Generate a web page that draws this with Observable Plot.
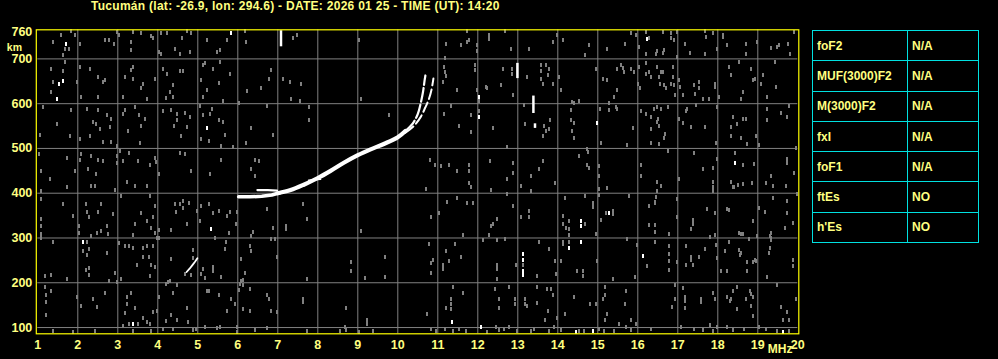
<!DOCTYPE html>
<html>
<head>
<meta charset="utf-8">
<script src="https://cdn.jsdelivr.net/npm/d3@7"></script>
<script src="https://cdn.jsdelivr.net/npm/@observablehq/plot@0.6"></script>
<style>
  html, body { margin: 0; padding: 0; background: #000; }
  #wrap { position: relative; width: 998px; height: 359px; overflow: hidden; background: #000; }
  #wrap svg { position: absolute; left: 0; top: 0; }
  #title { position: absolute; left: 91px; top: -1px; color: #ffff80; font: bold 12px "Liberation Sans", Arial, sans-serif; letter-spacing: 0.28px; white-space: nowrap; }
  #params { position: absolute; left: 812px; top: 30px; height: 212px; border-collapse: collapse; font: bold 12px "Liberation Sans", Arial, sans-serif; color: #ffff80; }
  #params tr { height: 30.3px; }
  #params td { border: 1px solid #00e0e0; padding: 0 0 0 4px; vertical-align: middle; }
  #params td.k { width: 90px; }
  #params td.v { width: 66px; }
</style>
</head>
<body>
<div id="wrap">
  <div id="title"></div>
  <table id="params"></table>
</div>
<script>
// ---------- text ----------
const titleText = "Tucumán (lat: -26.9, lon: 294.6) - DATE: 2026 01 25 - TIME (UT): 14:20";
const paramNames = ["foF2", "MUF(3000)F2", "M(3000)F2", "fxI", "foF1", "ftEs", "h'Es"];
const paramValues = ["N/A", "N/A", "N/A", "N/A", "N/A", "NO", "NO"];

// ---------- axes ----------
const xTicks = d3.range(1, 21);            // MHz
const xGrid = d3.range(2, 20);
const yTicks = [100, 200, 300, 400, 500, 600, 700, 760]; // km
const yGrid = [100, 200, 300, 400, 500, 600, 700];

// ---------- echo traces (freq MHz, virtual height km) ----------
const oTraceLow = [[6.02,392],[6.3,392],[6.6,393],[6.85,396],[7.05,401]];
const oTraceMid = [[7.0,400],[7.32,407],[7.65,419],[8.0,434],[8.32,450],[8.65,468],[9.0,485],[9.32,498],[9.65,510],[10.0,525],[10.19,539]];
const oTraceTop = [[10.19,539],[10.36,554],[10.5,577],[10.57,600],[10.63,626],[10.67,652],[10.69,663]];
const xTrace = [[10.19,535],[10.4,550],[10.57,570],[10.69,592],[10.78,611],[10.84,630],[10.89,656]];
const sideTrace = [[6.49,407],[6.75,407],[6.98,406]];
const streak = [[7.77,429],[8.07,431]];
const lowTrace = [[4.72,224],[4.80,232],[4.87,240],[4.93,247],[4.99,255]];
const spikes = [
  {f: 7.08, h1: 727, h2: 763},
  {f: 12.99, h1: 656, h2: 690},
  {f: 13.39, h1: 578, h2: 617},
  {f: 13.43, h1: 545, h2: 555}
];

// ---------- scattered noise echoes ----------
const noiseWhite = [[1.70,734],[5.84,757],[1.53,645],[1.63,650],[1.48,610],[5.23,545],[16.24,744],[12.03,615],[12.03,570],[14.99,557],[18.43,468],[2.13,290],[5.34,321],[3.38,107],[14.58,338],[14.58,327],[15.28,355],[13.14,264],[13.14,251],[13.14,226],[13.14,218],[14.28,277],[14.58,290],[16.13,260],[11.35,112],[12.08,101],[14.45,90],[14.87,93],[19.64,90]];

const noiseGray = [
[1.38,738],[1.57,753],[1.68,723],[1.78,723],[1.63,708],[1.84,762],[1.94,753],[2.05,734],[2.68,742],[2.78,742],[2.90,734],[3.03,753],[2.97,760],[3.34,738],[3.32,719],[3.38,760],[3.59,757],[3.84,751],[3.88,746],[4.09,757],[4.23,757],[4.03,716],[4.07,712],[4.43,723],[4.55,712],[4.61,746],[4.73,762],[4.84,757],[4.80,716],[5.22,742],[5.47,716],[5.55,719],[5.73,742],[6.20,738],[6.18,762],[7.38,746],[7.48,754],[9.03,742],
[1.34,678],[1.62,672],[1.68,693],[2.05,682],[2.30,678],[2.51,660],[2.63,649],[2.68,652],[2.51,615],[2.09,615],[1.38,649],[1.34,626],[1.97,649],[3.18,660],[3.38,656],[3.34,675],[3.38,682],[3.63,645],[3.59,634],[3.93,656],[3.13,615],[3.72,611],[4.13,678],[4.22,667],[4.55,672],[4.63,672],[4.38,641],[4.30,626],[4.38,615],[4.20,613],[5.13,686],[5.18,690],[5.38,678],[5.55,693],[5.80,667],[5.09,652],[5.22,630],[5.13,615],[5.53,647],[5.63,607],[6.23,628],[6.59,634],[6.78,656],[6.84,675],[7.13,656],[7.30,649],[7.59,645],[7.34,611],[7.55,605],[9.09,611],[6.03,602],
[1.13,593],[1.84,585],[1.47,555],[1.05,530],[1.80,528],[2.05,521],[2.22,589],[2.51,585],[2.72,574],[2.84,566],[2.38,559],[2.45,555],[2.55,544],[2.80,547],[2.30,528],[2.63,515],[2.82,515],[2.97,505],[3.18,585],[3.13,576],[3.43,593],[3.53,574],[3.59,551],[3.68,566],[3.26,540],[3.55,513],[4.13,583],[4.34,585],[4.47,578],[4.68,580],[4.80,570],[4.47,563],[4.40,551],[4.73,547],[4.59,527],[5.05,595],[5.13,574],[5.36,589],[5.30,576],[5.53,563],[5.63,560],[5.09,521],[5.28,517],[5.68,530],[5.59,505],[5.88,503],[6.34,545],[6.20,513],[6.88,530],[6.74,595],[7.78,593],[7.78,563],[9.78,574],
[1.03,487],[1.07,449],[1.30,431],[1.73,479],[2.09,487],[2.05,475],[2.34,483],[2.51,475],[2.62,472],[2.26,453],[2.45,442],[1.93,449],[2.97,483],[2.97,468],[3.05,494],[3.28,489],[3.13,472],[3.51,472],[3.80,464],[3.93,479],[3.95,469],[4.03,442],[4.55,489],[4.68,487],[4.84,449],[5.30,442],[5.59,475],[6.43,475],[6.53,472],[6.34,453],[6.43,438],
[11.74,762],[11.77,742],[11.73,738],[11.58,731],[11.20,734],[11.18,701],[11.99,731],[11.99,717],[12.28,753],[12.28,744],[12.68,762],[12.83,723],[13.28,723],[13.89,738],[13.99,753],[14.13,742],[14.78,731],[14.68,708],[15.24,722],[15.68,734],[15.83,757],[15.95,754],[16.03,727],[16.20,759],[16.28,746],[16.20,712],[16.45,712],[16.49,717],[16.62,714],[16.66,719],[16.64,760],[16.83,746],[16.84,757],[16.91,742],[16.99,759],[16.99,704],[17.18,734],[17.31,713],[17.68,762],[17.70,749],[17.68,712],[17.89,757],[17.99,723],[18.12,754],[18.12,749],[18.24,731],[18.70,734],[18.70,712],[18.99,738],[19.33,725],[19.49,727],[19.53,731],[19.76,734],[19.81,712],[19.91,760],
[11.12,649],[11.16,682],[11.18,671],[11.20,661],[11.49,630],[11.93,686],[11.93,675],[11.98,630],[12.03,607],[12.20,637],[12.24,634],[12.58,641],[12.64,678],[12.85,678],[12.85,667],[12.87,619],[13.24,660],[13.58,687],[13.59,672],[13.70,687],[13.78,678],[13.76,663],[13.58,656],[13.62,645],[13.89,645],[14.03,660],[14.08,630],[14.41,602],[14.53,607],[14.95,678],[15.13,656],[15.24,652],[15.49,678],[15.59,686],[15.62,680],[15.49,630],[15.41,615],[15.28,602],[15.66,671],[15.83,678],[15.91,671],[16.03,682],[16.01,645],[16.06,634],[16.20,690],[16.20,667],[16.28,671],[16.33,660],[16.49,682],[16.58,671],[16.53,660],[16.62,671],[16.56,645],[16.66,641],[16.70,634],[16.88,682],[16.87,660],[16.83,645],[16.91,641],[16.93,619],[17.03,652],[17.06,637],[17.12,619],[17.41,641],[17.43,622],[17.53,649],[17.53,634],[17.62,611],[17.78,611],[17.93,645],[17.93,637],[18.03,615],[18.28,682],[18.33,663],[18.53,693],[18.62,626],[18.58,611],[18.83,678],[18.87,652],[18.93,656],[19.12,663],[19.08,645],[19.24,615],[19.43,693],[19.45,637],
[11.16,578],[11.33,595],[11.53,551],[11.83,574],[11.84,537],[12.03,583],[12.39,545],[12.73,504],[13.16,597],[13.18,555],[13.43,551],[13.66,551],[13.70,540],[13.81,563],[13.62,528],[13.78,544],[14.33,586],[14.33,563],[14.35,540],[14.41,557],[14.41,524],[14.35,603],[15.08,513],[15.06,589],[15.28,586],[15.45,593],[15.49,589],[15.74,507],[15.87,545],[16.09,583],[16.20,576],[16.33,570],[16.41,589],[16.48,593],[16.48,560],[16.51,566],[16.33,544],[16.53,551],[16.68,532],[16.66,524],[16.33,513],[16.53,509],[16.58,589],[16.76,593],[17.03,565],[17.12,557],[17.34,547],[17.20,583],[17.23,589],[17.45,597],[17.68,547],[17.97,593],[17.95,513],[18.37,570],[18.49,555],[18.62,566],[18.70,566],[18.34,547],[18.34,528],[18.58,524],[18.74,509],[18.95,528],[19.03,507],[19.24,589],[19.24,563],[19.58,580],[19.73,570],[19.78,595],
[10.80,474],[10.93,464],[11.09,460],[11.28,464],[11.49,449],[11.78,464],[11.78,449],[12.31,472],[12.73,431],[12.89,468],[12.89,446],[13.34,438],[13.62,472],[13.53,453],[14.53,484],[14.74,499],[14.76,492],[14.74,464],[14.78,457],[15.03,460],[15.03,438],[16.09,462],[16.09,438],[16.76,494],[17.03,431],[17.41,490],[17.63,455],[17.87,457],[17.99,477],[18.43,490],[18.62,462],[18.91,466],[19.33,438],[19.74,477],[19.74,468],[19.91,446],[19.95,501],
[1.09,404],[1.73,413],[2.34,416],[2.43,416],[3.23,424],[3.44,416],[3.73,416],[2.94,407],[1.09,387],[1.63,375],[1.09,342],[1.09,327],[1.09,308],[1.09,301],[1.88,349],[2.03,327],[2.03,312],[2.20,377],[2.22,357],[2.28,346],[2.51,357],[2.58,377],[2.74,327],[2.49,312],[2.59,316],[2.76,308],[2.88,353],[2.34,305],[3.09,394],[3.59,355],[3.43,331],[3.38,307],[3.72,338],[3.80,394],[3.93,372],[3.88,346],[3.84,323],[3.93,312],[4.03,317],[4.03,299],[4.34,317],[4.43,377],[4.45,359],[4.55,375],[4.63,383],[4.78,379],[4.63,368],[4.73,332],[4.99,360],[5.05,337],[5.28,377],[5.08,372],[5.38,355],[5.53,360],[5.72,349],[5.80,359],[5.95,332],[5.98,357],[5.78,312],[5.43,299],[6.34,305],[6.38,314],[6.73,364],[6.88,323],[7.20,327],[7.20,319],[7.73,342],[7.63,377],[9.09,316],
[1.38,290],[2.24,290],[2.28,275],[2.13,272],[2.23,262],[2.74,267],[3.03,289],[3.18,281],[3.28,281],[3.63,277],[3.72,281],[3.63,258],[3.78,258],[3.88,283],[3.98,300],[3.93,236],[2.20,228],[2.28,234],[2.28,217],[1.18,214],[1.34,217],[1.73,208],[2.78,204],[2.93,222],[3.09,208],[3.38,277],[3.49,239],[3.80,214],[3.84,239],[4.88,273],[4.88,255],[4.68,220],[4.84,217],[5.12,230],[5.09,220],[5.38,236],[5.38,226],[5.18,211],[5.58,212],[4.34,253],[5.70,290],[5.69,275],[6.09,253],[6.30,281],[6.34,271],[6.19,222],[6.07,205],[6.12,207],[6.97,257],[6.94,298],[6.83,298],[7.73,208],[8.84,247],[8.84,226],[9.19,211],[9.69,257],[9.69,213],[4.30,205],
[1.18,190],[1.20,172],[1.34,181],[1.20,157],[1.20,129],[1.99,168],[2.09,147],[2.49,146],[2.38,164],[2.68,177],[2.97,201],[3.24,168],[3.24,153],[3.34,177],[3.44,143],[3.18,132],[3.28,108],[3.51,107],[3.72,112],[3.80,107],[3.63,122],[3.88,134],[4.03,168],[3.98,138],[4.20,198],[4.38,177],[4.34,127],[4.47,116],[4.20,114],[4.26,201],[4.48,196],[4.74,143],[4.76,112],[5.22,181],[5.28,181],[5.53,172],[5.84,164],[5.93,153],[6.05,198],[6.03,184],[6.13,196],[6.30,187],[5.73,137],[6.13,142],[6.30,137],[6.72,172],[6.78,164],[6.84,137],[6.98,135],[7.63,164],[7.63,157],[8.70,143],[9.23,116],[9.23,107],[8.68,101],
[1.38,93],[1.88,90],[2.43,93],[3.13,104],[3.38,93],[3.84,93],[4.13,97],[4.38,97],[4.88,95],[4.95,97],[5.18,102],[5.47,98],[5.55,101],[5.97,102],[5.97,90],[6.43,95],[6.74,98],[7.73,93],[8.55,93],[8.70,95],[9.03,90],[9.38,93],
[10.70,409],[11.78,422],[11.84,413],[12.33,407],[12.73,398],[13.08,416],[13.34,404],[13.93,422],[15.03,409],[15.03,396],[15.24,411],[15.78,394],[16.48,424],[16.58,416],[16.49,405],[16.45,392],[16.43,381],[16.99,387],[17.89,424],[17.89,413],[17.87,404],[18.33,424],[18.41,414],[18.37,413],[18.51,419],[18.64,420],[18.85,422],[19.20,422],[19.39,416],[19.39,390],[19.70,416],[19.74,383],[19.99,398],
[11.24,381],[11.49,390],[11.74,379],[11.89,379],[11.03,355],[10.83,346],[12.34,327],[12.39,332],[12.49,342],[12.28,307],[11.62,307],[12.89,372],[13.28,360],[13.28,346],[13.09,346],[14.13,349],[14.13,331],[14.20,323],[14.29,338],[14.29,319],[14.29,307],[14.68,332],[14.88,379],[14.88,369],[14.68,394],[14.18,390],[15.08,340],[15.20,355],[15.39,360],[15.39,353],[14.95,310],[16.28,372],[16.43,379],[16.28,328],[16.43,328],[16.43,314],[16.78,310],[16.99,347],[17.39,340],[17.39,331],[17.34,319],[17.73,364],[17.93,355],[17.93,307],[18.24,364],[18.28,363],[18.53,312],[18.58,308],[18.64,310],[18.78,297],[18.89,337],[18.99,305],[19.18,357],[19.33,312],[19.34,301],[19.68,323],[19.74,355],[19.87,334],[19.03,368],
[10.78,286],[10.87,251],[10.83,245],[10.83,222],[11.20,270],[11.14,239],[11.14,230],[11.28,249],[11.58,258],[11.43,286],[12.14,295],[12.49,296],[12.68,298],[12.49,239],[12.49,230],[12.49,208],[13.14,239],[12.95,239],[13.48,215],[13.53,290],[13.78,275],[13.93,249],[13.95,219],[14.08,249],[14.13,290],[14.13,287],[14.28,290],[14.62,226],[14.64,214],[14.49,226],[14.99,249],[15.39,208],[15.74,298],[15.93,213],[15.97,285],[16.24,237],[16.43,290],[16.78,281],[16.78,264],[16.78,249],[16.78,228],[16.98,247],[17.20,281],[17.20,239],[17.34,258],[17.34,251],[17.39,239],[17.53,258],[17.68,275],[17.80,302],[17.95,285],[17.97,255],[18.08,226],[18.19,272],[18.24,226],[18.28,290],[18.58,267],[18.53,273],[18.56,262],[18.74,247],[18.74,226],[18.87,247],[18.95,249],[18.93,251],[19.24,213],[19.28,267],[19.31,304],[19.33,295],[19.31,277],[19.89,237],[19.89,251],
[11.39,190],[11.33,164],[11.33,153],[11.20,144],[11.33,142],[10.74,131],[11.62,177],[12.43,187],[12.53,164],[12.53,144],[12.78,190],[12.93,164],[12.93,153],[13.18,164],[13.18,153],[13.24,147],[13.48,190],[13.48,154],[13.74,187],[13.84,187],[13.88,172],[13.76,138],[13.68,116],[13.98,122],[14.41,168],[14.18,131],[14.81,152],[14.95,152],[15.18,190],[15.18,172],[15.12,164],[15.24,131],[15.18,116],[15.70,181],[15.68,152],[15.53,107],[15.83,116],[15.95,107],[16.93,194],[16.93,164],[16.85,146],[17.13,189],[17.18,168],[17.18,159],[17.18,144],[17.58,164],[17.58,157],[17.88,177],[17.93,164],[17.81,106],[18.24,168],[18.33,164],[18.31,159],[18.39,181],[18.49,190],[18.49,142],[18.70,164],[18.81,181],[18.83,175],[18.87,168],[18.83,147],[18.87,125],[19.48,194],[19.58,146],[19.64,116],[19.74,135],[19.78,116],[19.95,164],
[10.83,97],[10.95,92],[11.18,97],[11.37,93],[11.53,97],[11.70,93],[12.24,90],[12.45,101],[12.53,95],[12.66,97],[12.78,101],[12.99,93],[13.33,93],[13.41,97],[13.78,93],[13.91,101],[14.08,95],[14.53,93],[14.66,92],[15.03,97],[15.16,93],[15.41,92],[15.70,101],[15.83,95],[16.33,97],[17.08,101],[17.41,97],[17.64,95],[17.87,93],[17.98,101],[18.24,101],[18.37,95],[18.66,97],[19.03,101],[19.20,97],[19.49,92],[19.78,93]
];

// ---------- styling ----------
const YEL = "#ffff80", FRAME = "#ffff00", GRID = "#808080", NOISE = "#808080", ECHO = "#ffffff";
const dash = {draw(ctx) { ctx.rect(-1, -2, 2, 4); }};

const chart = Plot.plot({
  width: 998, height: 359,
  marginLeft: 37.3, marginRight: 200.7, marginTop: 29.3, marginBottom: 25.7,
  style: {background: "#000", color: YEL, fontFamily: "'Liberation Sans', Arial, sans-serif", fontWeight: "bold", fontSize: "12.5px"},
  x: {domain: [1, 20]},
  y: {domain: [86, 765]},
  marks: [
    Plot.gridX(xGrid, {stroke: GRID, strokeOpacity: 1}),
    Plot.gridY(yGrid, {stroke: GRID, strokeOpacity: 1}),
    Plot.dot(noiseGray, {x: d => d[0], y: d => d[1], symbol: dash, fill: NOISE, stroke: null, shapeRendering: "crispEdges"}),
    Plot.dot(noiseWhite, {x: d => d[0], y: d => d[1], symbol: dash, fill: ECHO, stroke: null, shapeRendering: "crispEdges"}),
    Plot.ruleX(spikes, {x: "f", y1: "h1", y2: "h2", stroke: ECHO, strokeWidth: 2.5}),
    Plot.line(lowTrace, {x: d => d[0], y: d => d[1], stroke: ECHO, strokeWidth: 1.8}),
    Plot.line(sideTrace, {x: d => d[0], y: d => d[1], stroke: ECHO, strokeWidth: 2.2}),
    Plot.line(streak, {x: d => d[0], y: d => d[1], stroke: ECHO, strokeWidth: 1.5}),
    Plot.line(oTraceLow, {x: d => d[0], y: d => d[1], stroke: ECHO, strokeWidth: 3.5}),
    Plot.line(oTraceMid, {x: d => d[0], y: d => d[1], stroke: ECHO, strokeWidth: 4.2, curve: "catmull-rom"}),
    Plot.line(oTraceTop, {x: d => d[0], y: d => d[1], stroke: ECHO, strokeWidth: 2.2, curve: "catmull-rom", strokeDasharray: "14,3"}),
    Plot.line(xTrace, {x: d => d[0], y: d => d[1], stroke: ECHO, strokeWidth: 2, curve: "catmull-rom", strokeDasharray: "10,4"}),
    Plot.frame({stroke: FRAME, strokeWidth: 1.2, insetLeft: -1.5, insetRight: -1}),
    Plot.axisX(xTicks, {anchor: "bottom", tickSize: 0, tickPadding: 6.5, fill: YEL, label: null}),
    Plot.axisY(yTicks, {anchor: "left", tickSize: 0, tickPadding: 5.5, fill: YEL, label: null}),
    Plot.text(["km"], {frameAnchor: "top-left", dx: -31, dy: 13.5, textAnchor: "start", fill: YEL, fontSize: 10.5}),
    Plot.text(["MHz"], {frameAnchor: "bottom-right", dx: -30, dy: 19, textAnchor: "start", fill: YEL, fontSize: 12})
  ]
});
document.getElementById("wrap").prepend(chart);

document.getElementById("title").textContent = titleText;
const tbl = document.getElementById("params");
paramNames.forEach((name, i) => {
  const tr = document.createElement("tr");
  const a = document.createElement("td"); a.className = "k"; a.textContent = name;
  const b = document.createElement("td"); b.className = "v"; b.textContent = paramValues[i];
  tr.append(a, b); tbl.append(tr);
});
</script>
</body>
</html>
